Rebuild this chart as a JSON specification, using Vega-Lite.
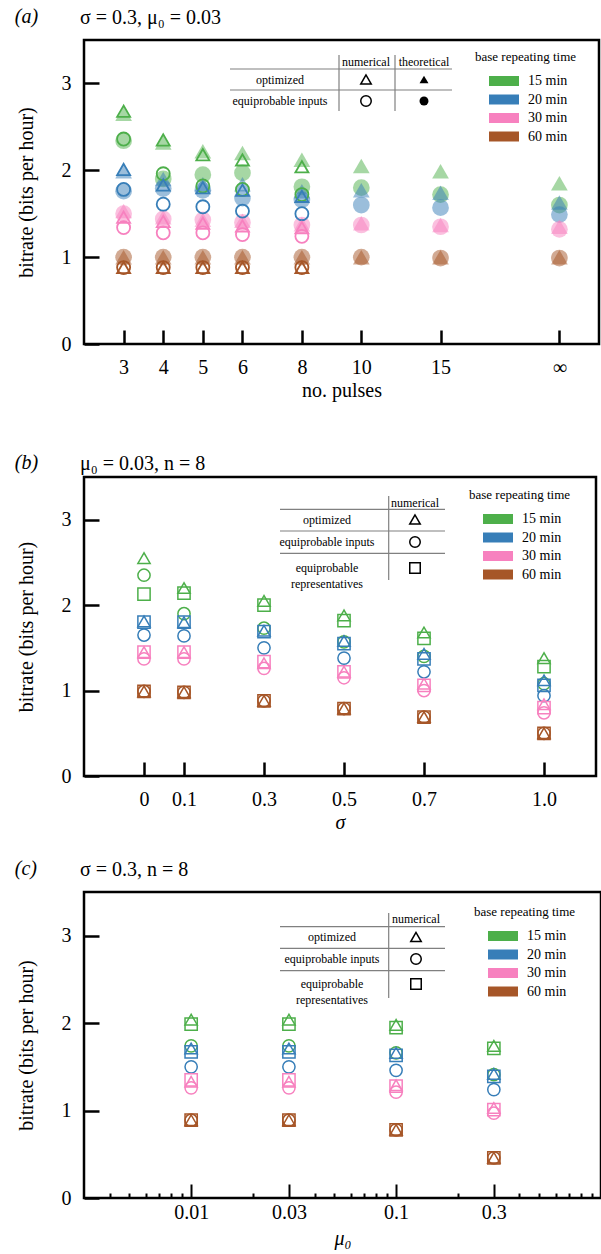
{
  "$schema": "https://vega.github.io/schema/vega-lite/v6.json",
  "background": "white",
  "padding": {"left": 14, "top": 6, "right": 2, "bottom": 2},
  "config": {
    "view": {"stroke": "black", "strokeWidth": 2.5},
    "font": "Liberation Serif",
    "axis": {"domain": false, "grid": false, "ticks": true, "tickColor": "black", "tickWidth": 2.5, "tickSize": -14, "labelFont": "Liberation Serif", "labelFontSize": 20, "labelColor": "black", "titleFont": "Liberation Serif", "titleFontSize": 20, "titleFontWeight": "normal", "titleColor": "black", "labelOverlap": false},
    "axisX": {"labelPadding": 27, "titlePadding": 3, "labelAngle": 0, "labelFlush": false},
    "axisY": {"labelPadding": 28, "titlePadding": 25, "tickSize": -15},
    "title": {"font": "Liberation Serif", "fontSize": 20, "fontWeight": "normal", "color": "black", "anchor": "start", "frame": "bounds"},
    "legend": {"symbolType": "M-1.5,-0.5H1.5V0.5H-1.5Z", "symbolSize": 400, "symbolStrokeWidth": 0, "symbolOpacity": 1, "labelFont": "Liberation Serif", "labelFontSize": 14, "labelColor": "black", "titleFont": "Liberation Serif", "titleFontSize": 13, "titleFontWeight": "normal", "titleColor": "black", "titlePadding": 7, "rowPadding": 1.5, "symbolOffset": 19, "labelOffset": 14, "fillColor": "white"}
  },
  "datasets": {
    "a": [
      {"n":"3","t":"15 min","m":"optimized","k":"theoretical","v":2.65},
      {"n":"3","t":"15 min","m":"equiprobable inputs","k":"theoretical","v":2.34},
      {"n":"3","t":"20 min","m":"optimized","k":"theoretical","v":1.99},
      {"n":"3","t":"20 min","m":"equiprobable inputs","k":"theoretical","v":1.76},
      {"n":"3","t":"30 min","m":"optimized","k":"theoretical","v":1.53},
      {"n":"3","t":"30 min","m":"equiprobable inputs","k":"theoretical","v":1.50},
      {"n":"3","t":"60 min","m":"optimized","k":"theoretical","v":1.00},
      {"n":"3","t":"60 min","m":"equiprobable inputs","k":"theoretical","v":1.00},
      {"n":"3","t":"15 min","m":"optimized","k":"numerical","v":2.68},
      {"n":"3","t":"15 min","m":"equiprobable inputs","k":"numerical","v":2.36},
      {"n":"3","t":"20 min","m":"optimized","k":"numerical","v":2.01},
      {"n":"3","t":"20 min","m":"equiprobable inputs","k":"numerical","v":1.78},
      {"n":"3","t":"30 min","m":"optimized","k":"numerical","v":1.46},
      {"n":"3","t":"30 min","m":"equiprobable inputs","k":"numerical","v":1.34},
      {"n":"3","t":"60 min","m":"optimized","k":"numerical","v":0.88},
      {"n":"3","t":"60 min","m":"equiprobable inputs","k":"numerical","v":0.88},

      {"n":"4","t":"15 min","m":"optimized","k":"theoretical","v":2.32},
      {"n":"4","t":"15 min","m":"equiprobable inputs","k":"theoretical","v":1.90},
      {"n":"4","t":"20 min","m":"optimized","k":"theoretical","v":1.90},
      {"n":"4","t":"20 min","m":"equiprobable inputs","k":"theoretical","v":1.79},
      {"n":"4","t":"30 min","m":"optimized","k":"theoretical","v":1.46},
      {"n":"4","t":"30 min","m":"equiprobable inputs","k":"theoretical","v":1.44},
      {"n":"4","t":"60 min","m":"optimized","k":"theoretical","v":1.00},
      {"n":"4","t":"60 min","m":"equiprobable inputs","k":"theoretical","v":1.00},
      {"n":"4","t":"15 min","m":"optimized","k":"numerical","v":2.35},
      {"n":"4","t":"15 min","m":"equiprobable inputs","k":"numerical","v":1.96},
      {"n":"4","t":"20 min","m":"optimized","k":"numerical","v":1.83},
      {"n":"4","t":"20 min","m":"equiprobable inputs","k":"numerical","v":1.61},
      {"n":"4","t":"30 min","m":"optimized","k":"numerical","v":1.41},
      {"n":"4","t":"30 min","m":"equiprobable inputs","k":"numerical","v":1.28},
      {"n":"4","t":"60 min","m":"optimized","k":"numerical","v":0.88},
      {"n":"4","t":"60 min","m":"equiprobable inputs","k":"numerical","v":0.88},

      {"n":"5","t":"15 min","m":"optimized","k":"theoretical","v":2.22},
      {"n":"5","t":"15 min","m":"equiprobable inputs","k":"theoretical","v":1.95},
      {"n":"5","t":"20 min","m":"optimized","k":"theoretical","v":1.84},
      {"n":"5","t":"20 min","m":"equiprobable inputs","k":"theoretical","v":1.77},
      {"n":"5","t":"30 min","m":"optimized","k":"theoretical","v":1.43},
      {"n":"5","t":"30 min","m":"equiprobable inputs","k":"theoretical","v":1.43},
      {"n":"5","t":"60 min","m":"optimized","k":"theoretical","v":1.00},
      {"n":"5","t":"60 min","m":"equiprobable inputs","k":"theoretical","v":1.00},
      {"n":"5","t":"15 min","m":"optimized","k":"numerical","v":2.18},
      {"n":"5","t":"15 min","m":"equiprobable inputs","k":"numerical","v":1.82},
      {"n":"5","t":"20 min","m":"optimized","k":"numerical","v":1.80},
      {"n":"5","t":"20 min","m":"equiprobable inputs","k":"numerical","v":1.58},
      {"n":"5","t":"30 min","m":"optimized","k":"numerical","v":1.39},
      {"n":"5","t":"30 min","m":"equiprobable inputs","k":"numerical","v":1.28},
      {"n":"5","t":"60 min","m":"optimized","k":"numerical","v":0.88},
      {"n":"5","t":"60 min","m":"equiprobable inputs","k":"numerical","v":0.88},

      {"n":"6","t":"15 min","m":"optimized","k":"theoretical","v":2.20},
      {"n":"6","t":"15 min","m":"equiprobable inputs","k":"theoretical","v":1.97},
      {"n":"6","t":"20 min","m":"optimized","k":"theoretical","v":1.84},
      {"n":"6","t":"20 min","m":"equiprobable inputs","k":"theoretical","v":1.68},
      {"n":"6","t":"30 min","m":"optimized","k":"theoretical","v":1.42},
      {"n":"6","t":"30 min","m":"equiprobable inputs","k":"theoretical","v":1.40},
      {"n":"6","t":"60 min","m":"optimized","k":"theoretical","v":1.00},
      {"n":"6","t":"60 min","m":"equiprobable inputs","k":"theoretical","v":1.00},
      {"n":"6","t":"15 min","m":"optimized","k":"numerical","v":2.12},
      {"n":"6","t":"15 min","m":"equiprobable inputs","k":"numerical","v":1.78},
      {"n":"6","t":"20 min","m":"optimized","k":"numerical","v":1.77},
      {"n":"6","t":"20 min","m":"equiprobable inputs","k":"numerical","v":1.53},
      {"n":"6","t":"30 min","m":"optimized","k":"numerical","v":1.36},
      {"n":"6","t":"30 min","m":"equiprobable inputs","k":"numerical","v":1.26},
      {"n":"6","t":"60 min","m":"optimized","k":"numerical","v":0.88},
      {"n":"6","t":"60 min","m":"equiprobable inputs","k":"numerical","v":0.88},

      {"n":"8","t":"15 min","m":"optimized","k":"theoretical","v":2.12},
      {"n":"8","t":"15 min","m":"equiprobable inputs","k":"theoretical","v":1.81},
      {"n":"8","t":"20 min","m":"optimized","k":"theoretical","v":1.76},
      {"n":"8","t":"20 min","m":"equiprobable inputs","k":"theoretical","v":1.66},
      {"n":"8","t":"30 min","m":"optimized","k":"theoretical","v":1.38},
      {"n":"8","t":"30 min","m":"equiprobable inputs","k":"theoretical","v":1.37},
      {"n":"8","t":"60 min","m":"optimized","k":"theoretical","v":1.00},
      {"n":"8","t":"60 min","m":"equiprobable inputs","k":"theoretical","v":1.00},
      {"n":"8","t":"15 min","m":"optimized","k":"numerical","v":2.04},
      {"n":"8","t":"15 min","m":"equiprobable inputs","k":"numerical","v":1.72},
      {"n":"8","t":"20 min","m":"optimized","k":"numerical","v":1.70},
      {"n":"8","t":"20 min","m":"equiprobable inputs","k":"numerical","v":1.50},
      {"n":"8","t":"30 min","m":"optimized","k":"numerical","v":1.34},
      {"n":"8","t":"30 min","m":"equiprobable inputs","k":"numerical","v":1.24},
      {"n":"8","t":"60 min","m":"optimized","k":"numerical","v":0.88},
      {"n":"8","t":"60 min","m":"equiprobable inputs","k":"numerical","v":0.88},

      {"n":"10","t":"15 min","m":"optimized","k":"theoretical","v":2.05},
      {"n":"10","t":"15 min","m":"equiprobable inputs","k":"theoretical","v":1.80},
      {"n":"10","t":"20 min","m":"optimized","k":"theoretical","v":1.77},
      {"n":"10","t":"20 min","m":"equiprobable inputs","k":"theoretical","v":1.60},
      {"n":"10","t":"30 min","m":"optimized","k":"theoretical","v":1.39},
      {"n":"10","t":"30 min","m":"equiprobable inputs","k":"theoretical","v":1.37},
      {"n":"10","t":"60 min","m":"optimized","k":"theoretical","v":1.00},
      {"n":"10","t":"60 min","m":"equiprobable inputs","k":"theoretical","v":1.00},

      {"n":"15","t":"15 min","m":"optimized","k":"theoretical","v":1.99},
      {"n":"15","t":"15 min","m":"equiprobable inputs","k":"theoretical","v":1.72},
      {"n":"15","t":"20 min","m":"optimized","k":"theoretical","v":1.74},
      {"n":"15","t":"20 min","m":"equiprobable inputs","k":"theoretical","v":1.57},
      {"n":"15","t":"30 min","m":"optimized","k":"theoretical","v":1.37},
      {"n":"15","t":"30 min","m":"equiprobable inputs","k":"theoretical","v":1.35},
      {"n":"15","t":"60 min","m":"optimized","k":"theoretical","v":1.00},
      {"n":"15","t":"60 min","m":"equiprobable inputs","k":"theoretical","v":0.99},

      {"n":"\u221e","t":"15 min","m":"optimized","k":"theoretical","v":1.85},
      {"n":"\u221e","t":"15 min","m":"equiprobable inputs","k":"theoretical","v":1.60},
      {"n":"\u221e","t":"20 min","m":"optimized","k":"theoretical","v":1.63},
      {"n":"\u221e","t":"20 min","m":"equiprobable inputs","k":"theoretical","v":1.49},
      {"n":"\u221e","t":"30 min","m":"optimized","k":"theoretical","v":1.35},
      {"n":"\u221e","t":"30 min","m":"equiprobable inputs","k":"theoretical","v":1.32},
      {"n":"\u221e","t":"60 min","m":"optimized","k":"theoretical","v":1.00},
      {"n":"\u221e","t":"60 min","m":"equiprobable inputs","k":"theoretical","v":0.99}
    ],
    "b": [
      {"s":0,"t":"15 min","m":"equiprobable representatives","v":2.13},
      {"s":0,"t":"15 min","m":"equiprobable inputs","v":2.35},
      {"s":0,"t":"15 min","m":"optimized","v":2.55},
      {"s":0,"t":"20 min","m":"equiprobable representatives","v":1.80},
      {"s":0,"t":"20 min","m":"equiprobable inputs","v":1.65},
      {"s":0,"t":"20 min","m":"optimized","v":1.81},
      {"s":0,"t":"30 min","m":"equiprobable representatives","v":1.45},
      {"s":0,"t":"30 min","m":"equiprobable inputs","v":1.37},
      {"s":0,"t":"30 min","m":"optimized","v":1.45},
      {"s":0,"t":"60 min","m":"equiprobable representatives","v":0.99},
      {"s":0,"t":"60 min","m":"equiprobable inputs","v":0.99},
      {"s":0,"t":"60 min","m":"optimized","v":0.99},

      {"s":0.1,"t":"15 min","m":"equiprobable representatives","v":2.14},
      {"s":0.1,"t":"15 min","m":"equiprobable inputs","v":1.90},
      {"s":0.1,"t":"15 min","m":"optimized","v":2.20},
      {"s":0.1,"t":"20 min","m":"equiprobable representatives","v":1.80},
      {"s":0.1,"t":"20 min","m":"equiprobable inputs","v":1.64},
      {"s":0.1,"t":"20 min","m":"optimized","v":1.80},
      {"s":0.1,"t":"30 min","m":"equiprobable representatives","v":1.45},
      {"s":0.1,"t":"30 min","m":"equiprobable inputs","v":1.37},
      {"s":0.1,"t":"30 min","m":"optimized","v":1.45},
      {"s":0.1,"t":"60 min","m":"equiprobable representatives","v":0.98},
      {"s":0.1,"t":"60 min","m":"equiprobable inputs","v":0.98},
      {"s":0.1,"t":"60 min","m":"optimized","v":0.98},

      {"s":0.3,"t":"15 min","m":"equiprobable representatives","v":2.00},
      {"s":0.3,"t":"15 min","m":"equiprobable inputs","v":1.73},
      {"s":0.3,"t":"15 min","m":"optimized","v":2.05},
      {"s":0.3,"t":"20 min","m":"equiprobable representatives","v":1.69},
      {"s":0.3,"t":"20 min","m":"equiprobable inputs","v":1.50},
      {"s":0.3,"t":"20 min","m":"optimized","v":1.70},
      {"s":0.3,"t":"30 min","m":"equiprobable representatives","v":1.34},
      {"s":0.3,"t":"30 min","m":"equiprobable inputs","v":1.26},
      {"s":0.3,"t":"30 min","m":"optimized","v":1.32},
      {"s":0.3,"t":"60 min","m":"equiprobable representatives","v":0.88},
      {"s":0.3,"t":"60 min","m":"equiprobable inputs","v":0.88},
      {"s":0.3,"t":"60 min","m":"optimized","v":0.88},

      {"s":0.5,"t":"15 min","m":"equiprobable representatives","v":1.82},
      {"s":0.5,"t":"15 min","m":"equiprobable inputs","v":1.57},
      {"s":0.5,"t":"15 min","m":"optimized","v":1.88},
      {"s":0.5,"t":"20 min","m":"equiprobable representatives","v":1.55},
      {"s":0.5,"t":"20 min","m":"equiprobable inputs","v":1.38},
      {"s":0.5,"t":"20 min","m":"optimized","v":1.58},
      {"s":0.5,"t":"30 min","m":"equiprobable representatives","v":1.22},
      {"s":0.5,"t":"30 min","m":"equiprobable inputs","v":1.15},
      {"s":0.5,"t":"30 min","m":"optimized","v":1.22},
      {"s":0.5,"t":"60 min","m":"equiprobable representatives","v":0.79},
      {"s":0.5,"t":"60 min","m":"equiprobable inputs","v":0.79},
      {"s":0.5,"t":"60 min","m":"optimized","v":0.79},

      {"s":0.7,"t":"15 min","m":"equiprobable representatives","v":1.61},
      {"s":0.7,"t":"15 min","m":"equiprobable inputs","v":1.40},
      {"s":0.7,"t":"15 min","m":"optimized","v":1.68},
      {"s":0.7,"t":"20 min","m":"equiprobable representatives","v":1.37},
      {"s":0.7,"t":"20 min","m":"equiprobable inputs","v":1.22},
      {"s":0.7,"t":"20 min","m":"optimized","v":1.43},
      {"s":0.7,"t":"30 min","m":"equiprobable representatives","v":1.06},
      {"s":0.7,"t":"30 min","m":"equiprobable inputs","v":1.00},
      {"s":0.7,"t":"30 min","m":"optimized","v":1.08},
      {"s":0.7,"t":"60 min","m":"equiprobable representatives","v":0.69},
      {"s":0.7,"t":"60 min","m":"equiprobable inputs","v":0.69},
      {"s":0.7,"t":"60 min","m":"optimized","v":0.69},

      {"s":1.0,"t":"15 min","m":"equiprobable representatives","v":1.28},
      {"s":1.0,"t":"15 min","m":"equiprobable inputs","v":1.08},
      {"s":1.0,"t":"15 min","m":"optimized","v":1.38},
      {"s":1.0,"t":"20 min","m":"equiprobable representatives","v":1.06},
      {"s":1.0,"t":"20 min","m":"equiprobable inputs","v":0.94},
      {"s":1.0,"t":"20 min","m":"optimized","v":1.12},
      {"s":1.0,"t":"30 min","m":"equiprobable representatives","v":0.80},
      {"s":1.0,"t":"30 min","m":"equiprobable inputs","v":0.74},
      {"s":1.0,"t":"30 min","m":"optimized","v":0.84},
      {"s":1.0,"t":"60 min","m":"equiprobable representatives","v":0.50},
      {"s":1.0,"t":"60 min","m":"equiprobable inputs","v":0.50},
      {"s":1.0,"t":"60 min","m":"optimized","v":0.50}
    ],
    "c": [
      {"mu":0.01,"t":"15 min","m":"equiprobable representatives","v":1.99},
      {"mu":0.01,"t":"15 min","m":"equiprobable inputs","v":1.74},
      {"mu":0.01,"t":"15 min","m":"optimized","v":2.04},
      {"mu":0.01,"t":"20 min","m":"equiprobable representatives","v":1.67},
      {"mu":0.01,"t":"20 min","m":"equiprobable inputs","v":1.50},
      {"mu":0.01,"t":"20 min","m":"optimized","v":1.71},
      {"mu":0.01,"t":"30 min","m":"equiprobable representatives","v":1.35},
      {"mu":0.01,"t":"30 min","m":"equiprobable inputs","v":1.26},
      {"mu":0.01,"t":"30 min","m":"optimized","v":1.33},
      {"mu":0.01,"t":"60 min","m":"equiprobable representatives","v":0.89},
      {"mu":0.01,"t":"60 min","m":"equiprobable inputs","v":0.89},
      {"mu":0.01,"t":"60 min","m":"optimized","v":0.89},

      {"mu":0.03,"t":"15 min","m":"equiprobable representatives","v":1.99},
      {"mu":0.03,"t":"15 min","m":"equiprobable inputs","v":1.74},
      {"mu":0.03,"t":"15 min","m":"optimized","v":2.04},
      {"mu":0.03,"t":"20 min","m":"equiprobable representatives","v":1.67},
      {"mu":0.03,"t":"20 min","m":"equiprobable inputs","v":1.50},
      {"mu":0.03,"t":"20 min","m":"optimized","v":1.71},
      {"mu":0.03,"t":"30 min","m":"equiprobable representatives","v":1.35},
      {"mu":0.03,"t":"30 min","m":"equiprobable inputs","v":1.26},
      {"mu":0.03,"t":"30 min","m":"optimized","v":1.33},
      {"mu":0.03,"t":"60 min","m":"equiprobable representatives","v":0.89},
      {"mu":0.03,"t":"60 min","m":"equiprobable inputs","v":0.89},
      {"mu":0.03,"t":"60 min","m":"optimized","v":0.89},

      {"mu":0.1,"t":"15 min","m":"equiprobable representatives","v":1.95},
      {"mu":0.1,"t":"15 min","m":"equiprobable inputs","v":1.66},
      {"mu":0.1,"t":"15 min","m":"optimized","v":1.98},
      {"mu":0.1,"t":"20 min","m":"equiprobable representatives","v":1.63},
      {"mu":0.1,"t":"20 min","m":"equiprobable inputs","v":1.46},
      {"mu":0.1,"t":"20 min","m":"optimized","v":1.66},
      {"mu":0.1,"t":"30 min","m":"equiprobable representatives","v":1.28},
      {"mu":0.1,"t":"30 min","m":"equiprobable inputs","v":1.21},
      {"mu":0.1,"t":"30 min","m":"optimized","v":1.29},
      {"mu":0.1,"t":"60 min","m":"equiprobable representatives","v":0.78},
      {"mu":0.1,"t":"60 min","m":"equiprobable inputs","v":0.78},
      {"mu":0.1,"t":"60 min","m":"optimized","v":0.78},

      {"mu":0.3,"t":"15 min","m":"equiprobable representatives","v":1.71},
      {"mu":0.3,"t":"15 min","m":"equiprobable inputs","v":1.41},
      {"mu":0.3,"t":"15 min","m":"optimized","v":1.74},
      {"mu":0.3,"t":"20 min","m":"equiprobable representatives","v":1.39},
      {"mu":0.3,"t":"20 min","m":"equiprobable inputs","v":1.24},
      {"mu":0.3,"t":"20 min","m":"optimized","v":1.42},
      {"mu":0.3,"t":"30 min","m":"equiprobable representatives","v":1.01},
      {"mu":0.3,"t":"30 min","m":"equiprobable inputs","v":0.97},
      {"mu":0.3,"t":"30 min","m":"optimized","v":1.03},
      {"mu":0.3,"t":"60 min","m":"equiprobable representatives","v":0.46},
      {"mu":0.3,"t":"60 min","m":"equiprobable inputs","v":0.46},
      {"mu":0.3,"t":"60 min","m":"optimized","v":0.46}
    ],
    "textA": [
      {"c":1.5,"r":0.5,"label":"numerical"},
      {"c":2.5,"r":0.5,"label":"theoretical"},
      {"c":0.5,"r":1.5,"label":"optimized"},
      {"c":0.5,"r":2.5,"label":"equiprobable inputs"}
    ],
    "linesA": [
      {"c":0,"c2":3,"r":1,"r2":1},
      {"c":0,"c2":3,"r":2,"r2":2},
      {"c":1,"c2":1,"r":0,"r2":3},
      {"c":2,"c2":2,"r":0,"r2":3}
    ],
    "symA": [
      {"c":1.5,"r":1.5,"m":"optimized","k":"numerical"},
      {"c":2.5,"r":1.5,"m":"optimized","k":"theoretical"},
      {"c":1.5,"r":2.5,"m":"equiprobable inputs","k":"numerical"},
      {"c":2.5,"r":2.5,"m":"equiprobable inputs","k":"theoretical"}
    ],
    "textBC": [
      {"c":1.5,"r":0.5,"label":"numerical"},
      {"c":0.5,"r":1.5,"label":"optimized"},
      {"c":0.5,"r":2.5,"label":"equiprobable inputs"},
      {"c":0.5,"r":3.5,"label":"equiprobable\nrepresentatives"}
    ],
    "linesBC": [
      {"c":0,"c2":2,"r":1,"r2":1},
      {"c":0,"c2":2,"r":2,"r2":2},
      {"c":0,"c2":2,"r":3,"r2":3},
      {"c":1,"c2":1,"r":0,"r2":4}
    ],
    "symBC": [
      {"c":1.5,"r":1.5,"m":"optimized"},
      {"c":1.5,"r":2.5,"m":"equiprobable inputs"},
      {"c":1.5,"r":3.5,"m":"equiprobable representatives"}
    ]
  },
  "vconcat": [
    {
      "vconcat": [
        {
          "title": {"text": "(a)", "fontStyle": "italic", "offset": -20},
          "resolve": {"legend": {"color": "independent"}},
          "vconcat": [
            {
              "title": {"text": "\u03c3 = 0.3, \u03bc\u2080 = 0.03", "frame": "group", "dx": -4, "offset": 12},
              "width": 515,
              "height": 304,
              "resolve": {"scale": {"x": "independent", "y": "independent"}},
              "layer": [
                {
                  "data": {"name": "a"},
                  "encoding": {
                    "x": {"field": "n", "type": "nominal", "scale": {"type": "point", "padding": 0, "domain": ["_a","_b","3","_1","4","_3","5","_5","6","_7","_8","8","_10","_11","10","_13","_14","_15","15","_17","_18","_19","_20","_21","\u221e","_c","_d"]}, "axis": {"values": ["3","4","5","6","8","10","15","\u221e"], "title": "no. pulses"}},
                    "y": {"field": "v", "type": "quantitative", "scale": {"domain": [0, 3.5], "nice": false, "zero": false}, "axis": {"values": [0,1,2,3], "title": "bitrate (bits per hour)"}},
                    "color": {"field": "t", "type": "nominal", "scale": {"domain": ["15 min","20 min","30 min","60 min"], "range": ["#4daf4a","#377eb8","#f781bf","#a65628"]}, "legend": {"title": "base repeating time", "orient": "none", "legendX": 391, "legendY": 11}},
                    "shape": {"field": "m", "type": "nominal", "scale": {"domain": ["optimized","equiprobable inputs","equiprobable representatives"], "range": ["triangle-up","circle","square"]}, "legend": null}
                  },
                  "layer": [
                    {"transform": [{"filter": "datum.k == 'theoretical'"}], "mark": {"type": "point", "filled": true, "opacity": 0.5, "size": 280, "strokeWidth": 0}},
                    {"transform": [{"filter": "datum.k == 'numerical'"}], "mark": {"type": "point", "filled": false, "opacity": 1, "size": 170, "strokeWidth": 1.8}}
                  ]
                },
                {
                  "encoding": {
                    "x": {"field": "c", "type": "quantitative", "scale": {"domain": [0,0.5,1,1.5,2,2.5,3], "range": [146,196,255,282,311,340,368], "nice": false, "zero": false}, "axis": null},
                    "y": {"field": "r", "type": "quantitative", "scale": {"domain": [0,0.5,1,1.5,2,2.5,3], "range": [15,22,29,39.5,50,61,71], "nice": false, "zero": false}, "axis": null}
                  },
                  "layer": [
                    {"data": {"name": "linesA"}, "mark": {"type": "rule", "color": "#808080", "strokeWidth": 1.2}, "encoding": {"x2": {"field": "c2"}, "y2": {"field": "r2"}}},
                    {"data": {"name": "textA"}, "mark": {"type": "text", "font": "Liberation Serif", "fontSize": 12, "color": "black", "align": "center", "baseline": "middle"}, "encoding": {"text": {"field": "label"}}},
                    {"data": {"name": "symA"}, "transform": [{"filter": "datum.k == 'numerical'"}], "mark": {"type": "point", "filled": false, "color": "black", "size": 110, "strokeWidth": 1.5, "opacity": 1}, "encoding": {"shape": {"field": "m", "type": "nominal", "scale": {"domain": ["optimized","equiprobable inputs","equiprobable representatives"], "range": ["triangle-up","circle","square"]}, "legend": null}}},
                    {"data": {"name": "symA"}, "transform": [{"filter": "datum.k == 'theoretical'"}], "mark": {"type": "point", "filled": true, "color": "black", "size": 80, "opacity": 1}, "encoding": {"shape": {"field": "m", "type": "nominal", "scale": {"domain": ["optimized","equiprobable inputs","equiprobable representatives"], "range": ["triangle-up","circle","square"]}, "legend": null}}}
                  ]
                }
              ]
            }
          ]
        },
        {
          "title": {"text": "(b)", "fontStyle": "italic", "offset": -20},
          "resolve": {"legend": {"color": "independent"}},
          "vconcat": [
            {
              "title": {"text": "\u03bc\u2080 = 0.03, n = 8", "frame": "group", "dx": -4, "offset": 3},
              "width": 512,
              "height": 299,
              "resolve": {"scale": {"x": "independent", "y": "independent"}},
              "layer": [
                {
                  "data": {"name": "b"},
                  "encoding": {
                    "x": {"field": "s", "type": "quantitative", "scale": {"domain": [-0.15, 1.13], "nice": false, "zero": false}, "axis": {"values": [0,0.1,0.3,0.5,0.7,1], "labelExpr": "datum.value == 0 ? '0' : format(datum.value, '.1f')", "title": "\u03c3", "titleFontStyle": "italic"}},
                    "y": {"field": "v", "type": "quantitative", "scale": {"domain": [0, 3.5], "nice": false, "zero": false}, "axis": {"values": [0,1,2,3], "title": "bitrate (bits per hour)"}},
                    "color": {"field": "t", "type": "nominal", "scale": {"domain": ["15 min","20 min","30 min","60 min"], "range": ["#4daf4a","#377eb8","#f781bf","#a65628"]}, "legend": {"title": "base repeating time", "orient": "none", "legendX": 385, "legendY": 12}},
                    "shape": {"field": "m", "type": "nominal", "scale": {"domain": ["optimized","equiprobable inputs","equiprobable representatives"], "range": ["triangle-up","circle","square"]}, "legend": null}
                  },
                  "layer": [
                    {"transform": [{"filter": "false"}], "mark": {"type": "point", "filled": true, "size": 150}},
                    {"mark": {"type": "point", "filled": false, "opacity": 1, "size": 150, "strokeWidth": 1.5}}
                  ]
                },
                {
                  "encoding": {
                    "x": {"field": "c", "type": "quantitative", "scale": {"domain": [0,0.5,1,1.5,2], "range": [196,243,304.7,331,361], "nice": false, "zero": false}, "axis": null},
                    "y": {"field": "r", "type": "quantitative", "scale": {"domain": [0,0.5,1,1.5,2,2.5,3,3.5,4], "range": [19,25.7,32.3,42.5,54,65,76.3,91,103], "nice": false, "zero": false}, "axis": null}
                  },
                  "layer": [
                    {"data": {"name": "linesBC"}, "mark": {"type": "rule", "color": "#808080", "strokeWidth": 1.2}, "encoding": {"x2": {"field": "c2"}, "y2": {"field": "r2"}}},
                    {"data": {"name": "textBC"}, "mark": {"type": "text", "font": "Liberation Serif", "fontSize": 12, "color": "black", "align": "center", "baseline": "middle", "lineBreak": "\n", "lineHeight": 16}, "encoding": {"text": {"field": "label"}}},
                    {"data": {"name": "symBC"}, "mark": {"type": "point", "filled": false, "color": "black", "size": 110, "strokeWidth": 1.5, "opacity": 1}, "encoding": {"shape": {"field": "m", "type": "nominal", "scale": {"domain": ["optimized","equiprobable inputs","equiprobable representatives"], "range": ["triangle-up","circle","square"]}, "legend": null}}}
                  ]
                }
              ]
            }
          ]
        }
      ],
      "spacing": 50,
      "resolve": {"legend": {"color": "independent"}}
    },
    {
      "title": {"text": "(c)", "fontStyle": "italic", "offset": -20},
      "resolve": {"legend": {"color": "independent"}},
      "vconcat": [
        {
          "title": {"text": "\u03c3 = 0.3, n = 8", "frame": "group", "dx": -4, "offset": 12},
          "width": 517,
          "height": 306,
          "resolve": {"scale": {"x": "independent", "y": "independent"}},
          "layer": [
            {
              "data": {"name": "c"},
              "encoding": {
                "x": {"field": "mu", "type": "quantitative", "scale": {"type": "log", "domain": [0.003, 1], "nice": false, "zero": false}, "axis": {"values": [0.004,0.005,0.006,0.007,0.008,0.009,0.01,0.02,0.03,0.04,0.05,0.06,0.07,0.08,0.09,0.1,0.2,0.3,0.4,0.5,0.6,0.7,0.8,0.9], "labelExpr": "indexof([0.01,0.03,0.1,0.3], datum.value) >= 0 ? datum.value + '' : ''", "labelPadding": 18, "titlePadding": -3, "title": "\u03bc\u2080", "titleFontStyle": "italic", "tickWidth": 2, "tickSize": {"condition": {"test": "indexof([0.01,0.03,0.1,0.3], datum.value) >= 0", "value": -14}, "value": -5}}},
                "y": {"field": "v", "type": "quantitative", "scale": {"domain": [0, 3.5], "nice": false, "zero": false}, "axis": {"values": [0,1,2,3], "title": "bitrate (bits per hour)"}},
                "color": {"field": "t", "type": "nominal", "scale": {"domain": ["15 min","20 min","30 min","60 min"], "range": ["#4daf4a","#377eb8","#f781bf","#a65628"]}, "legend": {"title": "base repeating time", "orient": "none", "legendX": 390, "legendY": 14}},
                "shape": {"field": "m", "type": "nominal", "scale": {"domain": ["optimized","equiprobable inputs","equiprobable representatives"], "range": ["triangle-up","circle","square"]}, "legend": null}
              },
              "layer": [
                {"transform": [{"filter": "false"}], "mark": {"type": "point", "filled": true, "size": 150}},
                {"mark": {"type": "point", "filled": false, "opacity": 1, "size": 150, "strokeWidth": 1.5}}
              ]
            },
            {
              "encoding": {
                "x": {"field": "c", "type": "quantitative", "scale": {"domain": [0,0.5,1,1.5,2], "range": [196,248,304.7,332,361], "nice": false, "zero": false}, "axis": null},
                "y": {"field": "r", "type": "quantitative", "scale": {"domain": [0,0.5,1,1.5,2,2.5,3,3.5,4], "range": [21,27,34.7,45,56.3,67,78.7,92,106], "nice": false, "zero": false}, "axis": null}
              },
              "layer": [
                {"data": {"name": "linesBC"}, "mark": {"type": "rule", "color": "#808080", "strokeWidth": 1.2}, "encoding": {"x2": {"field": "c2"}, "y2": {"field": "r2"}}},
                {"data": {"name": "textBC"}, "mark": {"type": "text", "font": "Liberation Serif", "fontSize": 12, "color": "black", "align": "center", "baseline": "middle", "lineBreak": "\n", "lineHeight": 16}, "encoding": {"text": {"field": "label"}}},
                {"data": {"name": "symBC"}, "mark": {"type": "point", "filled": false, "color": "black", "size": 110, "strokeWidth": 1.5, "opacity": 1}, "encoding": {"shape": {"field": "m", "type": "nominal", "scale": {"domain": ["optimized","equiprobable inputs","equiprobable representatives"], "range": ["triangle-up","circle","square"]}, "legend": null}}}
              ]
            }
          ]
        }
      ]
    }
  ],
  "spacing": 24,
  "resolve": {"legend": {"color": "independent"}}
}
